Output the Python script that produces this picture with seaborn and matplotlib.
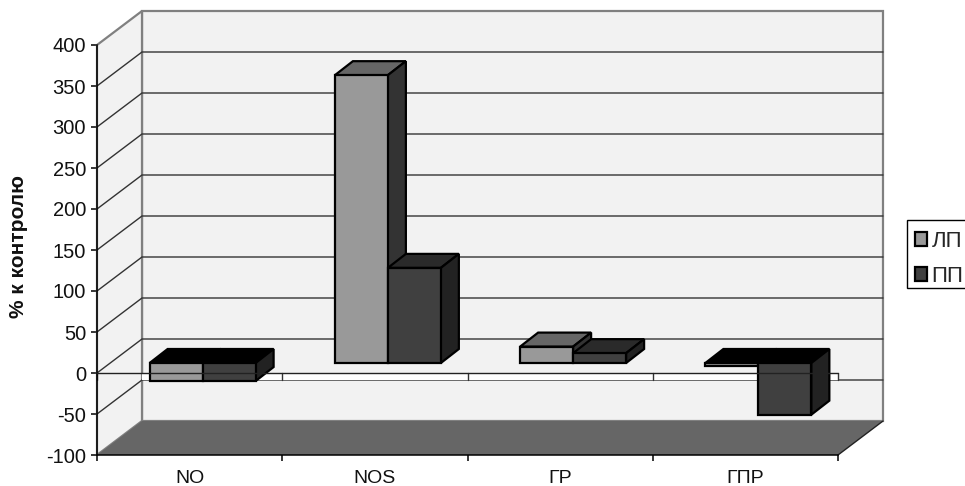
import matplotlib
matplotlib.use("Agg")
import matplotlib.pyplot as plt
import pandas as pd
import seaborn as sns
from matplotlib.patches import Polygon, Rectangle

categories = ["NO", "NOS", "ГР", "ГПР"]
series_names = ["ЛП", "ПП"]
lp_values = [-22, 351, 20, -4]
pp_values = [-22, 116, 12, -63]
y_ticks = list(range(-100, 401, 50))

FRONT = {"ЛП": "#999999", "ПП": "#404040"}
SIDE = {"ЛП": "#333333", "ПП": "#222222"}
TOP = {"ЛП": "#666666", "ПП": "#2a2a2a"}
WALL, FLOOR, WALL_EDGE, GRID = "#f2f2f2", "#666666", "#808080", "#333333"

sns.set_theme(style="white")
plt.rcParams["font.family"] = ["Liberation Sans", "DejaVu Sans"]

W, H = 965, 486
fig = plt.figure(figsize=(W / 100, H / 100), dpi=100, facecolor="white")
ax = fig.add_axes([97 / W, (H - 455) / H, (838 - 97) / W, (455 - 45) / H])

df = pd.DataFrame({
    "cat": categories * 2,
    "series": [series_names[0]] * 4 + [series_names[1]] * 4,
    "value": lp_values + pp_values,
})
sns.barplot(data=df, x="cat", y="value", hue="series", order=categories,
            hue_order=series_names, palette=FRONT, saturation=1, width=0.572,
            gap=0, edgecolor="black", linewidth=1.6, legend=False, ax=ax)

X0, X1 = -0.5, 3.5
Y0, Y1 = -100, 400
ax.set_xlim(X0, X1)
ax.set_ylim(Y0, Y1)

# depth of the box, and of the bars inside it, in data units
px_x = (X1 - X0) / (838 - 97)
px_y = (Y1 - Y0) / (455 - 45)
DX, DY = 45 * px_x, 34 * px_y
SX, SY = 13 * px_x, 10 * px_y
BX, BY = 18 * px_x, 14 * px_y


def poly(pts, fc, ec="none", lw=0.0, z=1):
    ax.add_patch(Polygon(pts, closed=True, facecolor=fc, edgecolor=ec, linewidth=lw,
                         zorder=z, clip_on=False, joinstyle="miter"))


# walls and floor
poly([(X0 + DX, Y0 + DY), (X1 + DX, Y0 + DY), (X1 + DX, Y1 + DY), (X0 + DX, Y1 + DY)],
     WALL, WALL_EDGE, 1.6, 1)
poly([(X0, Y0), (X0 + DX, Y0 + DY), (X0 + DX, Y1 + DY), (X0, Y1)], WALL, WALL_EDGE, 1.6, 1)
poly([(X0, Y0), (X1, Y0), (X1 + DX, Y0 + DY), (X0 + DX, Y0 + DY)], FLOOR, "none", 0, 1.5)
ax.plot([X1, X1 + DX], [Y0, Y0 + DY], color="#222222", lw=1, zorder=1.6, clip_on=False)

# gridlines on both walls
for v in y_ticks:
    if v != Y0 and v != Y1:
        ax.plot([X0, X0 + DX, X1 + DX], [v, v + DY, v + DY], color=GRID, lw=1,
                zorder=2, clip_on=False, solid_joinstyle="miter")

# category axis at zero: white strip below the line, with its ticks
ax.add_patch(Rectangle((X0 + DX, -50 + DY), X1 - X0 - DX, -(-50 + DY), facecolor="white",
                       edgecolor="none", zorder=2.2, clip_on=False))
for i in range(len(categories) + 1):
    ax.plot([X0 + i, X0 + i], [0, -50 + DY], color=GRID, lw=1, zorder=2.3, clip_on=False)
ax.plot([X0, X1], [0, 0], color="#222222", lw=1, zorder=20, clip_on=False)

# 3D faces of the bars
for k, (name, cont) in enumerate(zip(series_names, ax.containers)):
    base = 4 + 3 * k
    for patch in cont:
        x, w, h = patch.get_x(), patch.get_width(), patch.get_height()
        patch.set_x(x + SX)
        patch.set_y(SY)
        patch.set_zorder(base + 1)
        patch.set_clip_on(False)
        fx0, fx1 = x + SX, x + SX + w
        hi, lo = max(h, 0) + SY, min(h, 0) + SY
        top = TOP[name] if h > 0 else "#000000"
        side = SIDE[name]
        poly([(fx0, hi), (fx1, hi), (fx1 + BX, hi + BY), (fx0 + BX, hi + BY)],
             top, "black", 1.6, base)
        poly([(fx1, lo), (fx1 + BX, lo + BY), (fx1 + BX, hi + BY), (fx1, hi)],
             side, "black", 1.6, base)

# axes furniture
for s in ("top", "right"):
    ax.spines[s].set_visible(False)
for s in ("left", "bottom"):
    ax.spines[s].set_color("black")
    ax.spines[s].set_linewidth(1.1)
    ax.spines[s].set_zorder(3)
ax.set_facecolor("none")
ax.set_yticks(y_ticks)
ax.set_yticklabels([str(v) for v in y_ticks])
ax.set_xticks(range(len(categories)))
ax.set_xticklabels(categories)
ax.set_xticks([X0 + i for i in range(len(categories) + 1)], minor=True)
ax.tick_params(axis="y", which="major", left=True, length=4.3, width=1.1, color="black",
               labelsize=14.5, pad=3.5, labelcolor="#111111")
ax.tick_params(axis="x", which="major", bottom=False, labelsize=14, pad=5, labelcolor="#111111")
ax.tick_params(axis="x", which="minor", bottom=True, length=4.5, width=1.1, color="black")
ax.set_xlabel("")
ax.set_ylabel("")
fig.text(19 / W, (H - 247) / H, "% к контролю", rotation=90, ha="center", va="center",
         fontsize=15, fontweight="bold", color="#111111")

# legend: its frame runs past the right edge of the figure
fig.add_artist(Rectangle((907 / W, (H - 288) / H), 70 / W, 68 / H, transform=fig.transFigure,
                         facecolor="white", edgecolor="black", linewidth=1, zorder=0))
handles = [Rectangle((0, 0), 1, 1, facecolor=FRONT[n], edgecolor="black", linewidth=1.6)
           for n in series_names]
leg = fig.legend(handles, series_names, loc="upper left",
                 bbox_to_anchor=(915 / W, (H - 231) / H), borderaxespad=0, frameon=False,
                 fontsize=16, handlelength=0.55, handleheight=0.55, handletextpad=0.2,
                 borderpad=0, labelspacing=0.62)
leg.set_zorder(1)

fig.savefig("out.png", dpi=100)
